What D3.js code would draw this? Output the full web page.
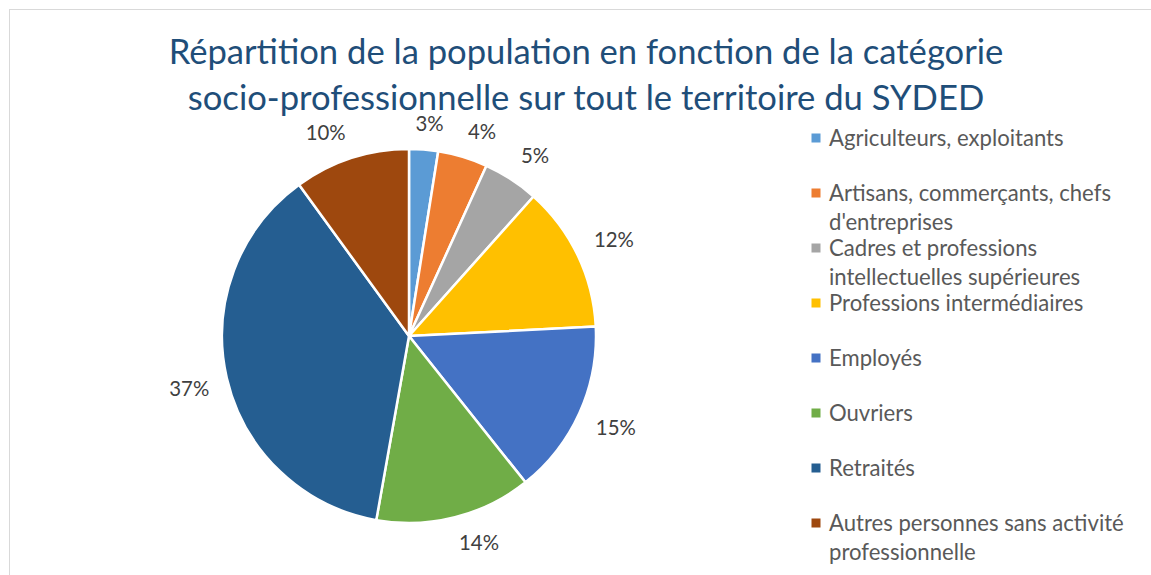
<!DOCTYPE html>
<html>
<head>
<meta charset="utf-8">
<script src="https://cdn.jsdelivr.net/npm/d3@7"></script>
<style>
  body { margin: 0; background: #fff; }
  svg { display: block; font-family: Lato, "Open Sans", sans-serif; }
</style>
</head>
<body>
<svg id="chart" width="1151" height="575"></svg>
<script>
// data
const categories = ["Agriculteurs, exploitants", "Artisans, commerçants, chefs d'entreprises",
  "Cadres et professions intellectuelles supérieures", "Professions intermédiaires",
  "Employés", "Ouvriers", "Retraités", "Autres personnes sans activité professionnelle"];
const legendLines = [["Agriculteurs, exploitants"], ["Artisans, commerçants, chefs", "d'entreprises"],
  ["Cadres et professions", "intellectuelles supérieures"], ["Professions intermédiaires"],
  ["Employés"], ["Ouvriers"], ["Retraités"], ["Autres personnes sans activité", "professionnelle"]];
const values = [2.5, 4.3, 4.8, 12.6, 15.1, 13.5, 37.2, 10.0];
const pctLabels = ["3%", "4%", "5%", "12%", "15%", "14%", "37%", "10%"];
const colors = ["#5B9BD5", "#ED7D31", "#A5A5A5", "#FFC000", "#4472C4", "#70AD47", "#255E91", "#9E480E"];
const titleLines = ["Répartition de la population en fonction de la catégorie",
  "socio-professionnelle sur tout le territoire du SYDED"];

const svg = d3.select("#chart");
const cx = 409, cy = 336, R = 187;

// chart area border
svg.append("rect").attr("x", 9.5).attr("y", 9.5).attr("width", 1160).attr("height", 600)
  .attr("fill", "none").attr("stroke", "#D9D9D9").attr("stroke-width", 1);

// fit a font size so that a text gets a given width
function fitSize(sample, target, base) {
  const t = svg.append("text").style("font-size", base + "px").text(sample);
  const w = t.node().getComputedTextLength();
  t.remove();
  return base * target / w;
}

// title
const titleSize = fitSize(titleLines[0], 835, 30);
svg.selectAll(".title").data(titleLines).join("text").attr("class", "title")
  .attr("x", 586).attr("y", (d, i) => 64 + i * 46)
  .attr("text-anchor", "middle").attr("fill", "#1F4E79")
  .style("font-size", titleSize + "px").text(d => d);

// pie
const pie = d3.pie().sort(null).value(d => d);
const arcs = pie(values);
const arc = d3.arc().innerRadius(0).outerRadius(R);
const g = svg.append("g").attr("transform", `translate(${cx},${cy})`);
g.selectAll("path").data(arcs).join("path")
  .attr("d", arc).attr("fill", (d, i) => colors[i])
  .attr("stroke", "#fff").attr("stroke-width", 2.5).attr("stroke-linejoin", "round");

// percentage labels, outside end
const labelSize = fitSize("14%", 40, 20);
const gap = 18;
const clamp = v => Math.max(-1, Math.min(1, v));
arcs.forEach((a, i) => {
  const mid = (a.startAngle + a.endAngle) / 2;
  const t = g.append("text").attr("fill", "#404040").style("font-size", labelSize + "px")
    .attr("text-anchor", "middle").text(pctLabels[i]);
  const w = t.node().getComputedTextLength(), h = 16;
  const s = Math.sin(mid), c = -Math.cos(mid);
  const r = R + gap;
  const x = r * s + (w / 2) * clamp(s * 4);
  const y = r * c + (h / 2) * clamp(c * 4);
  t.attr("x", x).attr("y", y + labelSize * 0.35);
});

// legend
const legendSize = fitSize("Autres personnes sans activité", 295, 20);
const legend = svg.append("g");
legendLines.forEach((lines, i) => {
  const y = 138 + i * 55;
  legend.append("rect").attr("x", 811.5).attr("y", y - 4.5).attr("width", 9).attr("height", 9)
    .attr("fill", colors[i]);
  lines.forEach((ln, j) => {
    legend.append("text").attr("x", 829).attr("y", y + 8 + j * 29)
      .attr("fill", "#595959").style("font-size", legendSize + "px").text(ln);
  });
});
</script>
</body>
</html>
